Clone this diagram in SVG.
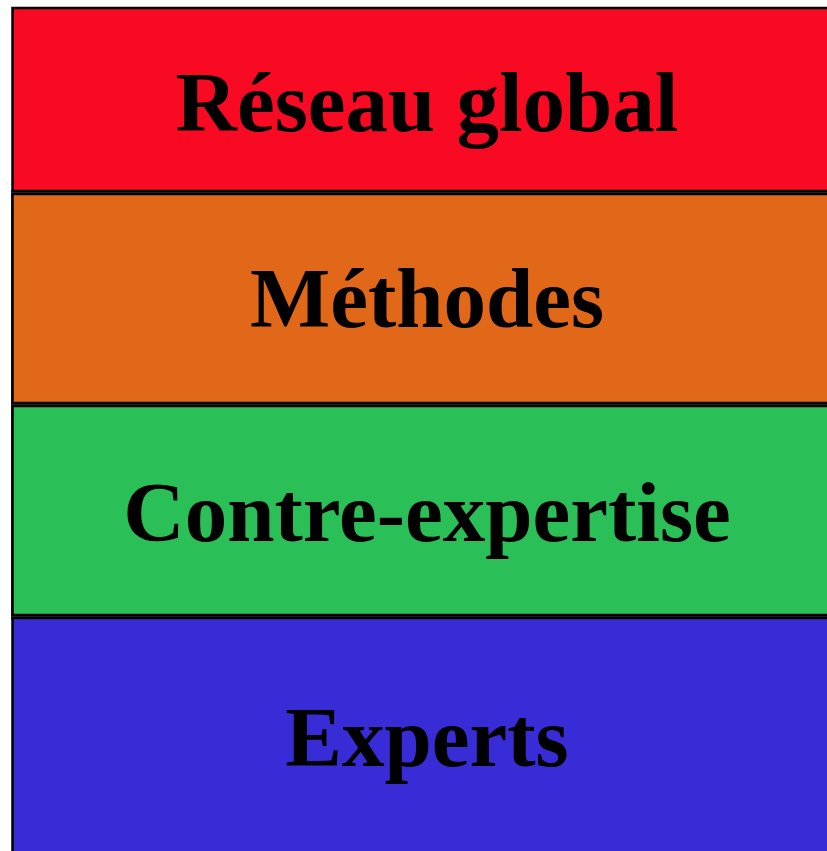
<svg xmlns="http://www.w3.org/2000/svg" width="827" height="851" viewBox="0 0 827 851">
  <style>
    .band { stroke: #000; stroke-width: 2.5; }
    .label { font-family: "Liberation Serif", "Times New Roman", serif; font-weight: bold; font-size: 85px; fill: #000; text-anchor: middle; }
  </style>
  <rect width="827" height="851" fill="#fff"/>
  <!-- thin dark seams between stacked bands -->
  <rect x="11" y="190" width="830" height="430" fill="#3c3c3c"/>
  <g id="reseau-global">
    <rect class="band" x="12.5" y="8" width="830" height="183" fill="#f90a23"/>
    <text class="label" x="427" y="131">Réseau global</text>
  </g>
  <g id="methodes">
    <rect class="band" x="12.5" y="194" width="830" height="209" fill="#e06818"/>
    <text class="label" x="427" y="327">Méthodes</text>
  </g>
  <g id="contre-expertise">
    <rect class="band" x="12.5" y="406" width="830" height="209" fill="#2bbf58"/>
    <text class="label" x="427" y="541">Contre-expertise</text>
  </g>
  <g id="experts">
    <rect class="band" x="12.5" y="618" width="830" height="260" fill="#382cd6"/>
    <text class="label" x="427" y="766">Experts</text>
  </g>
  <g id="connectors"/>
</svg>
